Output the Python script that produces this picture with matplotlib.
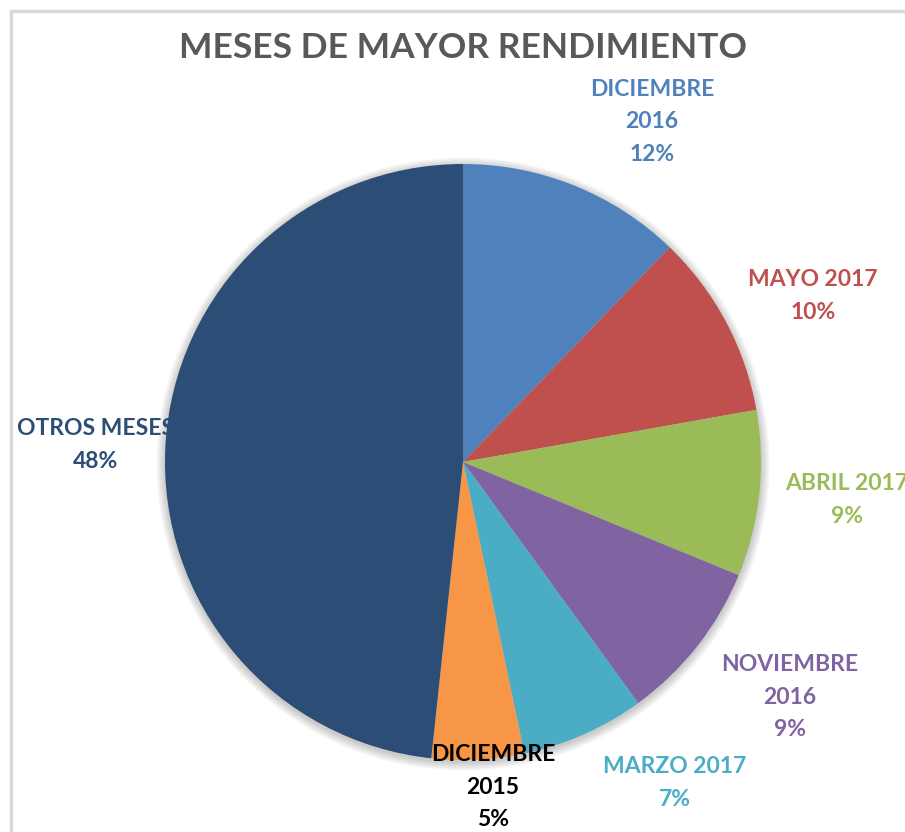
import matplotlib.pyplot as plt
from matplotlib.patches import Rectangle, Circle

# Data
labels = ['DICIEMBRE\n2016', 'MAYO 2017', 'ABRIL 2017', 'NOVIEMBRE\n2016',
          'MARZO 2017', 'DICIEMBRE\n2015', 'OTROS MESES']
values = [12.2, 10.0, 9.0, 8.8, 6.7, 5.0, 48.3]
colors = ['#4F81BD', '#C0504D', '#9BBB59', '#8064A2', '#4BACC6', '#F79646', '#2C4D75']
label_colors = ['#4F81BD', '#C0504D', '#9BBB59', '#8064A2', '#4BACC6', '#000000', '#2C4D75']

# label anchor positions in pixel space (x, y from top)
label_pos = [(652, 122), (813, 296), (847, 500), (790, 697),
             (675, 783), (493, 787), (96, 445)]
label_z = [2, 2, 2, 2, 2, 5, 2]

W, H = 905, 832
plt.rcParams['font.family'] = ['Lato', 'DejaVu Sans']

fig = plt.figure(figsize=(W / 100, H / 100), dpi=100)
ax = fig.add_axes([0, 0, 1, 1])

# chart area border (cropped at right and bottom)
ax.add_patch(Rectangle((11, -10), W + 20, H - 11 + 10, fill=False,
                       edgecolor='#D9D9D9', linewidth=2.5, zorder=0))

cx, cy, r = 463, H - 462, 298

# soft shadow round the pie
for k in range(6):
    ax.add_patch(Circle((cx, cy - 2), r + 1 + k * 1.5, facecolor='#000000',
                        edgecolor='none', alpha=0.035, zorder=1))

ax.pie(values, colors=colors, startangle=90, counterclock=False,
       center=(cx, cy), radius=r, frame=True,
       wedgeprops=dict(linewidth=0, zorder=3))
ax.set_xlim(0, W)
ax.set_ylim(0, H)
ax.set_aspect('equal')
ax.axis('off')

total = sum(values)
for lab, v, c, (px, py), z in zip(labels, values, label_colors, label_pos, label_z):
    ax.text(px, H - py, f'{lab}\n{round(v / total * 100):.0f}%', color=c,
            ha='center', va='center', fontsize=16.5, fontweight='bold',
            linespacing=1.65, zorder=z)

ax.text(463, H - 48, 'MESES DE MAYOR RENDIMIENTO', color='#595959',
        ha='center', va='center', fontsize=25.5, fontweight='bold')

fig.savefig('out.png', dpi=100)
